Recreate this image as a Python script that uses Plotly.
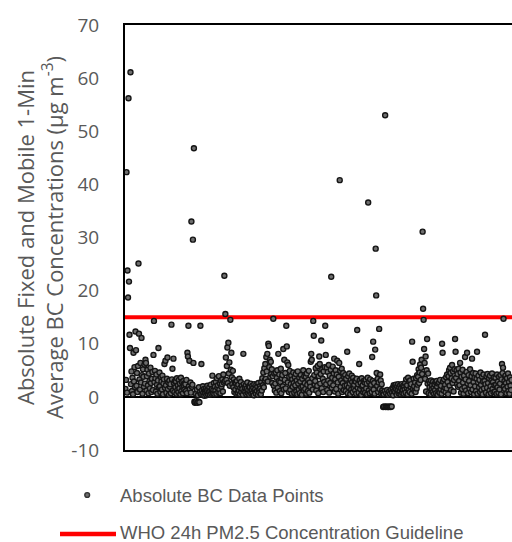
import plotly.graph_objects as go

# Absolute BC 1-min concentrations (ug m^-3), in time order
bc_part1 = [
    1.5, 3.2, 42.3, 0.8, 23.8, 18.7, 56.2, 21.7, 11.7, 9.2, 61.1, 2.4, 4.8, 1.1, 3.6, 0.5, 8.3, 2.9, 5.6, 1.8,
    12.3, 8.8, 2.1, 4.5, 0.9, 5.8, 25.1, 11.9, 3.3, 1.4, 6.4, 2.7, 11.1, 4.1, 0.6, 5.2, 3.8, 1.9, 6.1, 2.5,
    7.0, 6.4, 1.2, 3.9, 5.1, 2.2, 0.7, 4.4, 3.0, 1.6, 5.5, 2.6, 0.9, 3.4, 4.7, 1.3, 7.9, 14.3, 2.8, 4.9,
    3.5, 1.0, 4.2, 2.3, 0.6, 3.1, 9.2, 1.8, 4.6, 2.0, 0.9, 3.7, 2.9, 1.4, 4.0, 0.5, 2.5, 3.3, 6.2, 1.7,
    6.8, 2.2, 0.8, 3.4, 7.4, 1.5, 2.7, 0.4, 3.1, 1.9, 2.4, 0.7, 13.6, 3.3, 5.3, 1.2, 7.2, 2.6, 0.9, 3.0,
    1.8, 2.9, 0.6, 3.5, 1.3, 2.2, 0.9, 3.2, 1.6, 2.5, 0.5, 3.6, 1.1, 2.8, 1.9, 0.7, 3.0, 2.1, 1.4, 2.6,
    2.4, 1.1, 3.2, 0.7, 8.3, 7.6, 13.4, 2.0, 6.8, 1.5, 2.7, 0.8, 33.0, 1.9, 2.3, 29.6, 6.4, 46.8, -0.9, -1.1,
    -1.0, 0.6, -0.8, 1.4, -1.1, 0.3, -0.9, 1.8, -1.0, 0.9, 13.4, 0.5, 6.2, 1.2, 0.4, 2.0, 0.8, 1.5, 0.2, 1.1,
]
bc_part2 = [
    0.7, 1.6, 0.3, 1.2, 2.1, 0.5, 1.4, 0.9, 1.8, 0.4, 1.1, 2.3, 0.6, 1.5, 4.0, 0.8, 1.3, 2.6, 0.5, 1.9,
    1.2, 2.8, 0.6, 3.5, 1.7, 2.2, 0.9, 3.9, 1.4, 2.5, 0.7, 3.1, 1.9, 2.4, 3.3, 1.0, 4.2, 2.7, 22.8, 3.0,
    15.6, 7.4, 3.2, 5.8, 9.3, 2.6, 10.2, 4.4, 6.5, 2.1, 14.5, 5.1, 8.3, 3.7, 2.4, 4.9, 1.8, 3.3, 0.9, 2.7,
    1.4, 2.6, 0.6, 3.0, 1.9, 0.8, 2.3, 1.2, 3.4, 0.5, 1.7, 2.8, 0.9, 2.1, 1.5, 0.4, 8.1, 2.4, 1.1, 1.8,
    0.9, 2.2, 0.5, 1.6, 2.7, 0.8, 1.3, 2.0, 0.4, 1.8, 1.0, 2.5, 0.6, 1.4, 2.1, 0.7, 1.7, 0.3, 2.4, 1.2,
    1.5, 0.6, 2.3, 1.1, 1.9, 0.4, 2.6, 1.3, 0.8, 2.0, 1.6, 0.5, 2.8, 1.2, 3.5, 2.2, 4.6, 1.8, 5.4, 3.1,
    6.2, 3.4, 7.5, 4.8, 8.1, 2.9, 10.0, 9.6, 5.6, 7.0, 3.8, 6.6, 4.3, 5.2, 2.6, 3.9, 14.7, 2.1, 4.4, 1.2,
    2.5, 4.6, 0.8, 3.6, 5.0, 1.7, 8.1, 3.0, 4.2, 1.1, 2.8, 5.3, 0.7, 3.5, 4.1, 2.0, 9.0, 1.4, 7.0, 3.2,
    4.5, 1.6, 13.4, 9.5, 6.5, 2.7, 6.0, 0.9, 3.8, 4.9, 1.3, 2.4, 4.0, 0.6, 3.3, 1.9, 4.6, 2.6, 0.8, 3.7,
    2.2, 4.3, 1.0, 3.1, 0.5, 4.8, 2.5, 1.4, 3.6, 0.7, 2.9, 4.1, 1.8, 0.4, 3.4, 2.0, 5.0, 1.2, 3.9, 2.6,
]
bc_part3 = [
    1.5, 3.8, 0.6, 4.4, 2.3, 1.1, 3.2, 4.9, 0.8, 2.7, 1.9, 6.6, 8.1, 7.0, 3.5, 1.4, 14.3, 11.5, 4.1, 2.4,
    3.0, 5.4, 1.2, 4.6, 2.1, 5.8, 0.7, 3.9, 7.6, 6.2, 2.5, 4.3, 10.6, 1.6, 5.2, 3.4, 0.9, 4.8, 2.8, 5.6,
    13.4, 7.9, 2.4, 5.5, 1.3, 4.7, 3.1, 6.0, 0.8, 4.0, 2.6, 5.1, 22.6, 1.7, 3.6, 5.7, 2.2, 4.4, 7.2, 1.0,
    3.3, 5.0, 1.5, 4.2, 6.8, 2.7, 0.6, 3.8, 6.4, 40.8, 4.9, 1.9, 3.1, 5.3, 0.9, 2.6, 4.5, 1.3, 3.7, 2.1,
    4.1, 1.1, 3.4, 2.2, 8.5, 0.7, 3.9, 1.8, 4.4, 2.5, 0.5, 3.2, 1.4, 4.0, 2.8, 0.9, 3.6, 1.6, 2.3, 3.0,
    1.2, 2.9, 0.6, 3.4, 12.6, 1.7, 2.4, 0.8, 6.2, 3.1, 1.5, 2.6, 0.4, 3.5, 1.9, 2.2, 0.9, 3.0, 1.3, 2.7,
    0.8, 3.2, 1.6, 2.5, 0.5, 3.6, 36.6, 1.2, 2.8, 0.7, 3.3, 1.9, 2.3, 0.9, 7.5, 3.0, 10.4, 1.4, 2.6, 0.6,
    8.9, 27.9, 19.1, 4.5, 2.1, 3.4, 0.9, 2.7, 12.8, 1.5, 4.2, 3.1, 0.6, 2.4, 1.2, 0.8, -1.9, 0.5, -1.8, 1.1,
    53.0, -1.9, 0.7, -1.8, 1.3, -1.9, 0.4, -1.9, 1.0, -1.8, 0.6, -1.9, 1.4, -1.8, 0.8, 1.7, 0.3, 2.2, 1.1, 1.9,
    0.9, 2.3, 1.5, 0.4, 2.0, 1.2, 2.4, 0.7, 1.8, 1.0, 2.2, 0.5, 1.6, 2.4, 0.8, 1.3, 2.1, 0.6, 1.9, 1.4,
]
bc_part4 = [
    2.6, 0.8, 3.3, 1.7, 2.2, 0.5, 3.6, 1.3, 2.9, 0.9, 3.1, 1.9, 2.4, 0.6, 10.4, 6.6, 1.5, 3.4, 2.0, 1.1,
    2.7, 0.9, 3.5, 1.6, 4.1, 2.3, 3.8, 5.2, 2.6, 4.6, 6.1, 3.2, 5.5, 7.0, 4.3, 31.1, 16.6, 14.5, 9.0, 6.4,
    3.4, 7.6, 1.0, 5.0, 10.9, 2.5, 4.4, 0.7, 3.0, 1.8, 2.6, 0.5, 3.1, 1.4, 2.2, 0.9, 2.9, 1.7, 0.6, 2.4,
    1.3, 2.8, 0.7, 3.0, 1.9, 0.4, 2.5, 1.1, 2.7, 0.8, 3.2, 1.5, 2.1, 0.6, 10.0, 8.3, 2.9, 1.2, 3.3, 1.8,
    2.3, 0.9, 3.7, 1.6, 4.2, 2.8, 0.5, 3.9, 5.0, 2.1, 5.5, 4.5, 1.3, 3.5, 6.0, 2.6, 4.8, 1.0, 3.2, 5.2,
    10.9, 8.5, 3.6, 5.0, 2.4, 4.3, 1.9, 5.3, 3.0, 2.2, 6.4, 4.6, 0.8, 3.8, 1.5, 5.1, 2.7, 0.6, 4.0, 1.8,
    7.5, 3.3, 1.2, 4.7, 8.3, 2.5, 0.7, 4.1, 3.0, 1.6, 5.2, 2.2, 0.9, 3.9, 7.2, 1.4, 4.5, 2.8, 0.5, 3.6,
    2.0, 4.4, 1.1, 3.4, 8.5, 0.6, 2.7, 4.0, 1.8, 3.2, 0.9, 4.6, 2.3, 1.3, 3.8, 0.5, 2.9, 4.2, 1.6, 3.0,
    11.7, 2.4, 0.8, 3.9, 1.7, 4.3, 2.6, 0.5, 3.5, 1.2, 4.0, 2.0, 0.7, 3.1, 4.4, 1.5, 2.8, 0.9, 3.7, 2.2,
    1.0, 3.6, 2.3, 0.6, 4.2, 1.8, 2.9, 0.8, 3.8, 1.4, 2.5, 4.1, 0.5, 3.3, 6.2, 4.5, 5.5, 14.7, 2.0, 3.0,
    1.5, 4.0, 2.6, 0.7, 3.5, 1.9, 4.4, 1.1, 2.8, 0.6, 3.7, 2.1, 1.3, 3.2,
]
bc_values = bc_part1 + bc_part2 + bc_part3 + bc_part4
sample_index = list(range(len(bc_values)))

who_guideline = 15  # WHO 24h PM2.5 guideline, ug m^-3
y_ticks = [-10, 0, 10, 20, 30, 40, 50, 60, 70]
y_tick_labels = ["-10", "0", "10", "20", "30", "40", "50", "60", "70"]
legend_labels = ["Absolute BC Data Points", "WHO 24h PM2.5 Concentration Guideline"]

x_range = [-1, len(bc_values)]

# layout geometry (pixels)
W, H = 512, 542
ML, MR, MT, MB = 125, 0, 25, 92
PW, PH = W - ML - MR, H - MT - MB


def px_x(px):
    return (px - ML) / PW


def px_y(py):
    return (H - MB - py) / PH


point_line = "#141414"
point_fill = "#6e6e6e"
red = "#FF0000"
grey = "#595959"

fig = go.Figure()
fig.add_trace(go.Scatter(
    x=x_range, y=[who_guideline, who_guideline],
    mode="lines", line=dict(color=red, width=4),
    name=legend_labels[1], showlegend=False,
))
fig.add_trace(go.Scatter(
    x=sample_index, y=bc_values,
    mode="markers",
    marker=dict(symbol="circle", size=5, color=point_fill,
                line=dict(color=point_line, width=1.4)),
    name=legend_labels[0], showlegend=False,
))

# legend drawn below the plot
legend_rows = [495, 532]
legend_font = dict(family="Liberation Sans, Arial", size=18.5, color=grey)
annotations = [
    dict(text=lab, x=px_x(118), y=px_y(row), xref="paper", yref="paper",
         xanchor="left", yanchor="middle", showarrow=False, font=legend_font)
    for lab, row in zip(legend_labels, legend_rows)
]
shapes = [
    dict(type="circle", xref="paper", yref="paper",
         x0=px_x(84.8), x1=px_x(89.6), y0=px_y(497.4), y1=px_y(492.6),
         line=dict(color="#333333", width=1.4), fillcolor=point_fill),
    dict(type="line", xref="paper", yref="paper",
         x0=px_x(60), x1=px_x(116), y0=px_y(legend_rows[1] + 2), y1=px_y(legend_rows[1] + 2),
         line=dict(color=red, width=4.5)),
]

fig.update_layout(
    width=W, height=H,
    margin=dict(l=ML, r=MR, t=MT, b=MB),
    paper_bgcolor="white", plot_bgcolor="white",
    showlegend=False,
    annotations=annotations, shapes=shapes,
    font=dict(family="Open Sans", color=grey),
)
fig.update_xaxes(
    range=x_range, showticklabels=False, ticks="", showgrid=False, zeroline=False,
    showline=True, linecolor="black", linewidth=2, mirror=True,
)
fig.update_yaxes(
    range=[-10, 70], tickvals=y_ticks, ticktext=y_tick_labels, showgrid=False,
    zeroline=True, zerolinecolor="black", zerolinewidth=2,
    showline=True, linecolor="black", linewidth=2, mirror=False,
    ticks="outside", ticklen=20, tickcolor="rgba(0,0,0,0)",
    tickfont=dict(family="Open Sans", size=19, color=grey),
    title=dict(
        text="Absolute Fixed and Mobile 1-Min<br>Average BC Concentrations (μg m<sup>-3</sup>)",
        font=dict(family="Open Sans", size=22, color=grey),
        standoff=2,
    ),
)

fig.write_html("out.html")
